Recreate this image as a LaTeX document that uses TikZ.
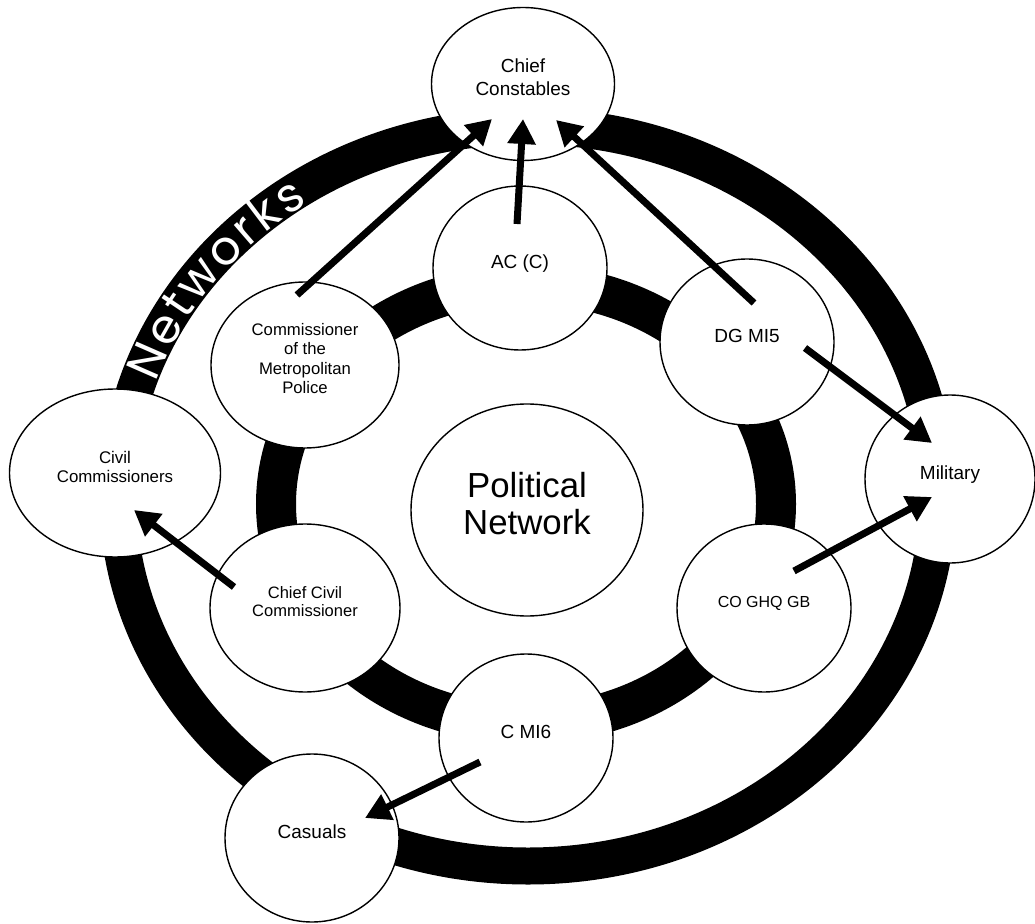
\documentclass[tikz,border=0pt]{standalone}
\usepackage{fontspec}
\setmainfont{Liberation Sans}
\newfontfamily\netfont{Poppins}
\usetikzlibrary{arrows.meta, shapes.geometric, decorations.text}

\begin{document}
\begin{tikzpicture}[x=0.2mm, y=-0.2mm]
\tikzstyle{actor}=[ellipse, draw, line width=0.8pt, fill=white, inner sep=0pt, align=center,
  minimum width=34.8mm, minimum height=33.6mm, text depth=2.6mm, font=\fontsize{10.8}{13}\selectfont]
\tikzstyle{link}=[line width=1.4mm, -{Triangle[length=5mm, width=5.4mm]}]
\tikzstyle{ring}=[line width=7.4mm]
    \useasboundingbox (0,0) rectangle (1035,924);

    % the two networks
    \coordinate (outer) at (528,496);
    \coordinate (inner) at (526,504);
    \draw[ring] (outer) ellipse [x radius=82mm, y radius=74mm];
    \draw[ring, line width=8mm] (inner) ellipse [x radius=50mm, y radius=44mm];
    \path[decorate, decoration={text along path, text align={fit to path}, raise=-3.4mm,
      text={|\netfont\fontsize{27}{27}\selectfont\color{white}|Networks}}]
      (outer) ++(161:82mm and 74mm) arc[start angle=161, end angle=124, x radius=82mm, y radius=74mm];

    \node (pol) [actor, minimum width=46.4mm, minimum height=42.4mm, font=\fontsize{19.8}{21.5}\selectfont] at (527,510) {Political\\Network};
    \node (ac) [actor, minimum height=32.8mm] at (520,268) {AC (C)};
    \node (comm) [actor, minimum width=37.6mm, minimum height=33.2mm, font=\fontsize{9.5}{11}\selectfont] at (305,365) {Commissioner\\of the\\Metropolitan\\Police};
    \node (dg) [actor, minimum height=33.2mm] at (747,342) {DG MI5};
    \node (ccc) [actor, minimum width=38mm, font=\fontsize{9.4}{10.4}\selectfont] at (305,608) {Chief Civil\\Commissioner};
    \node (co) [actor, font=\fontsize{9.1}{11}\selectfont] at (764,608) {CO GHQ GB};
    \node (mi6) [actor] at (526,738) {C MI6};

    \node (cc) [actor, minimum width=36.6mm, minimum height=30.6mm] at (523,84) {Chief\\Constables};
    \node (civil) [actor, minimum width=42.2mm, font=\fontsize{9.6}{10.8}\selectfont] at (115,473) {Civil\\Commissioners};
    \node (mil) [actor, minimum width=34mm] at (950,479) {Military};
    \node (cas) [actor] at (312,838) {Casuals};

    \draw[link] ([shift={(-8,-70)}]comm.center) -- ([shift={(-31,35)}]cc.center);
    \draw[link] ([shift={(-3,-44)}]ac.center) -- ([shift={(0,35)}]cc.center);
    \draw[link] ([shift={(7,-39)}]dg.center) -- ([shift={(33,36)}]cc.center);
    \draw[link] ([shift={(58,6)}]dg.center) -- ([shift={(-18,-36)}]mil.center);
    \draw[link] ([shift={(30,-37)}]co.center) -- ([shift={(-18,18)}]mil.center);
    \draw[link] ([shift={(-71,-21)}]ccc.center) -- ([shift={(19,37)}]civil.center);
    \draw[link] ([shift={(-46,24)}]mi6.center) -- ([shift={(53,-20)}]cas.center);
\end{tikzpicture}
\end{document}
